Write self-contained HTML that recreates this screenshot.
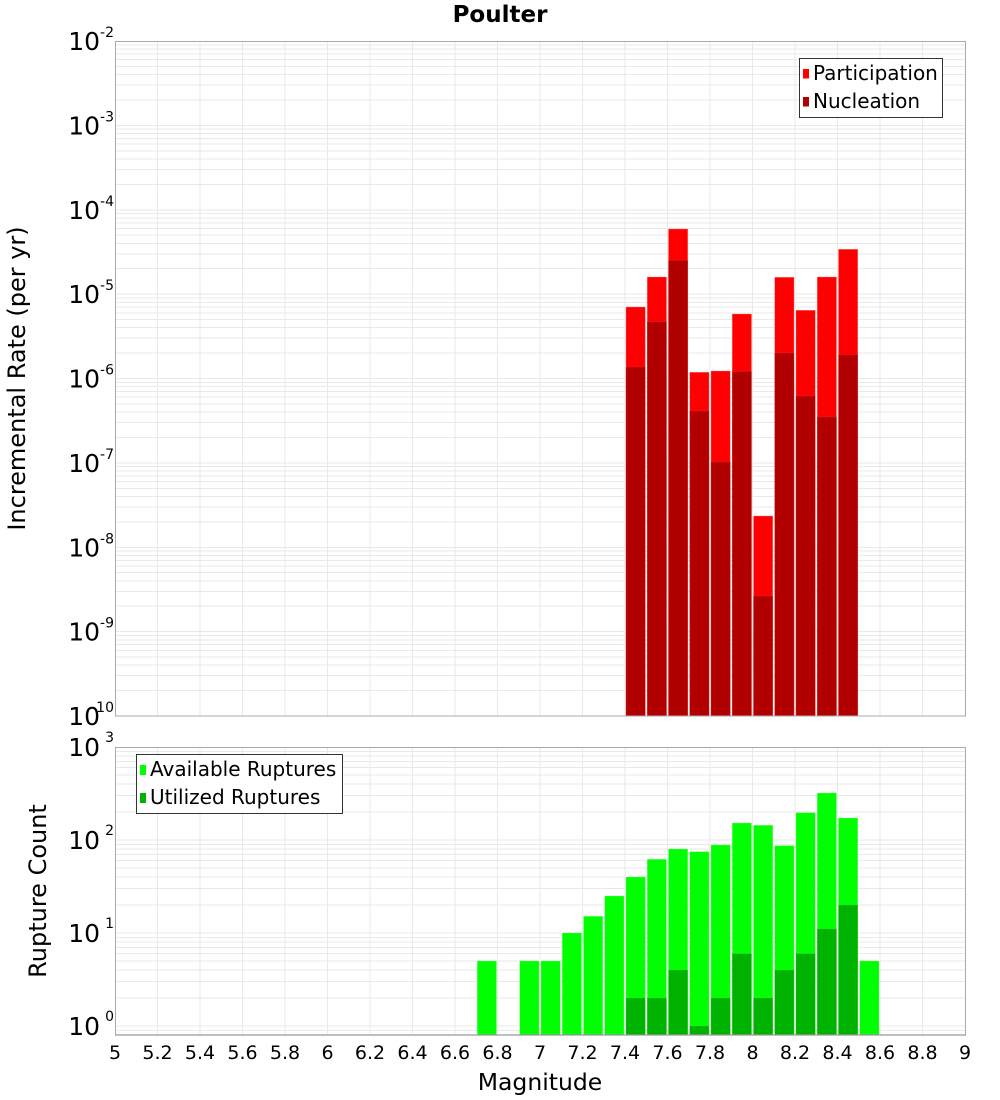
<!DOCTYPE html>
<html><head><meta charset="utf-8"><style>
html,body{margin:0;padding:0;background:#fff;}
svg{display:block;}
text{font-family:"DejaVu Sans","Liberation Sans",sans-serif;fill:#000;}
</style></head><body>
<svg width="1000" height="1100" viewBox="0 0 1000 1100" xmlns="http://www.w3.org/2000/svg">
<rect x="0" y="0" width="1000" height="1100" fill="#fff"/>
<text x="500" y="22" font-size="23" font-weight="bold" text-anchor="middle">Poulter</text>

<!-- TOP PLOT -->
<rect x="115" y="41" width="850" height="675" fill="#fff"/>
<g stroke="#e9e9e9" stroke-width="1" fill="none" shape-rendering="crispEdges">
<path d="M115 690.6H965M115 675.7H965M115 665.2H965M115 657H965M115 650.3H965M115 644.7H965M115 639.8H965M115 635.5H965M115 631.6H965M115 606.2H965M115 591.4H965M115 580.8H965M115 572.6H965M115 566H965M115 560.3H965M115 555.4H965M115 551.1H965M115 547.25H965M115 521.9H965M115 507H965M115 496.5H965M115 488.3H965M115 481.6H965M115 475.9H965M115 471.1H965M115 466.7H965M115 462.9H965M115 437.5H965M115 422.6H965M115 412.1H965M115 403.9H965M115 397.2H965M115 391.6H965M115 386.7H965M115 382.4H965M115 378.5H965M115 353.1H965M115 338.2H965M115 327.7H965M115 319.5H965M115 312.8H965M115 307.2H965M115 302.3H965M115 298H965M115 294.1H965M115 268.7H965M115 253.9H965M115 243.3H965M115 235.1H965M115 228.5H965M115 222.8H965M115 217.9H965M115 213.6H965M115 209.75H965M115 184.4H965M115 169.5H965M115 159H965M115 150.8H965M115 144.1H965M115 138.4H965M115 133.6H965M115 129.2H965M115 125.4H965M115 100H965M115 85.1H965M115 74.6H965M115 66.4H965M115 59.7H965M115 54.1H965M115 49.2H965M115 44.9H965"/>
<path d="M157.5 41V716M200 41V716M242.5 41V716M285 41V716M327.5 41V716M370 41V716M412.5 41V716M455 41V716M497.5 41V716M540 41V716M582.5 41V716M625 41V716M667.5 41V716M710 41V716M752.5 41V716M795 41V716M837.5 41V716M880 41V716M922.5 41V716"/>
</g>
<g stroke="#ff7a7a" stroke-width="0.6" stroke-opacity="0.6">
<rect x="626" y="307" width="19.25" height="409" fill="#ff0000"/>
<rect x="647.25" y="277" width="19.25" height="439" fill="#ff0000"/>
<rect x="668.5" y="229" width="19.25" height="487" fill="#ff0000"/>
<rect x="689.75" y="372.3" width="19.25" height="343.7" fill="#ff0000"/>
<rect x="711" y="371" width="19.25" height="345" fill="#ff0000"/>
<rect x="732.25" y="314" width="19.25" height="402" fill="#ff0000"/>
<rect x="753.5" y="516" width="19.25" height="200" fill="#ff0000"/>
<rect x="774.75" y="277.3" width="19.25" height="438.7" fill="#ff0000"/>
<rect x="796" y="310.3" width="19.25" height="405.7" fill="#ff0000"/>
<rect x="817.25" y="277" width="19.25" height="439" fill="#ff0000"/>
<rect x="838.5" y="249.3" width="19.25" height="466.7" fill="#ff0000"/>
</g>
<g stroke="#d04040" stroke-width="0.6" stroke-opacity="0.5">
<rect x="626" y="367" width="19.25" height="349" fill="#b20000"/>
<rect x="647.25" y="321.7" width="19.25" height="394.3" fill="#b20000"/>
<rect x="668.5" y="260.3" width="19.25" height="455.7" fill="#b20000"/>
<rect x="689.75" y="411" width="19.25" height="305" fill="#b20000"/>
<rect x="711" y="462" width="19.25" height="254" fill="#b20000"/>
<rect x="732.25" y="371.3" width="19.25" height="344.7" fill="#b20000"/>
<rect x="753.5" y="596" width="19.25" height="120" fill="#b20000"/>
<rect x="774.75" y="353" width="19.25" height="363" fill="#b20000"/>
<rect x="796" y="396" width="19.25" height="320" fill="#b20000"/>
<rect x="817.25" y="417" width="19.25" height="299" fill="#b20000"/>
<rect x="838.5" y="354.7" width="19.25" height="361.3" fill="#b20000"/>
</g>
<rect x="115.5" y="41.5" width="850" height="674.5" fill="none" stroke="#aaaaaa" stroke-width="1"/>

<!-- top legend -->
<rect x="799.5" y="58.5" width="143" height="59" fill="#fff" stroke="#333" stroke-width="1"/>
<rect x="803" y="69" width="6" height="9.5" fill="#ff0000"/>
<rect x="803" y="97" width="6" height="9.5" fill="#b20000"/>
<text x="813" y="80" font-size="20">Participation</text>
<text x="813" y="108" font-size="20">Nucleation</text>

<!-- top y tick labels -->
<g font-size="25" text-anchor="end">
<text x="100" y="50">10</text>
<text x="100" y="134.4">10</text>
<text x="100" y="218.75">10</text>
<text x="100" y="303.1">10</text>
<text x="100" y="387.5">10</text>
<text x="100" y="471.9">10</text>
<text x="100" y="556.25">10</text>
<text x="100" y="640.6">10</text>
<text x="100" y="725">10</text>
</g>
<g font-size="14" text-anchor="end">
<text x="114" y="37">-2</text>
<text x="114" y="121.4">-3</text>
<text x="114" y="205.75">-4</text>
<text x="114" y="290.1">-5</text>
<text x="114" y="374.5">-6</text>
<text x="114" y="458.9">-7</text>
<text x="114" y="543.25">-8</text>
<text x="114" y="627.6">-9</text>
<text x="114" y="712">-10</text>
</g>
<text transform="translate(25,378.5) rotate(-90)" font-size="24" text-anchor="middle">Incremental Rate (per yr)</text>

<!-- BOTTOM PLOT -->
<rect x="115" y="747" width="850" height="288" fill="#fff"/>
<g stroke="#e9e9e9" stroke-width="1" fill="none" shape-rendering="crispEdges">
<path d="M115 1030.3H965M115 1026H965M115 998H965M115 981.6H965M115 970H965M115 961H965M115 953.6H965M115 947.4H965M115 942H965M115 937.3H965M115 933H965M115 905H965M115 888.6H965M115 877H965M115 868H965M115 860.6H965M115 854.4H965M115 849H965M115 844.3H965M115 840H965M115 812H965M115 795.6H965M115 784H965M115 775H965M115 767.6H965M115 761.4H965M115 756H965M115 751.3H965"/>
<path d="M157.5 747V1035M200 747V1035M242.5 747V1035M285 747V1035M327.5 747V1035M370 747V1035M412.5 747V1035M455 747V1035M497.5 747V1035M540 747V1035M582.5 747V1035M625 747V1035M667.5 747V1035M710 747V1035M752.5 747V1035M795 747V1035M837.5 747V1035M880 747V1035M922.5 747V1035"/>
</g>
<g stroke="#80ff80" stroke-width="0.6" stroke-opacity="0.6">
<rect x="477.25" y="961" width="19.25" height="74" fill="#00ff00"/>
<rect x="519.75" y="961" width="19.25" height="74" fill="#00ff00"/>
<rect x="541" y="961" width="19.25" height="74" fill="#00ff00"/>
<rect x="562.25" y="933" width="19.25" height="102" fill="#00ff00"/>
<rect x="583.5" y="916.3" width="19.25" height="118.7" fill="#00ff00"/>
<rect x="604.75" y="896" width="19.25" height="139" fill="#00ff00"/>
<rect x="626" y="877" width="19.25" height="158" fill="#00ff00"/>
<rect x="647.25" y="859.3" width="19.25" height="175.7" fill="#00ff00"/>
<rect x="668.5" y="849" width="19.25" height="186" fill="#00ff00"/>
<rect x="689.75" y="851.7" width="19.25" height="183.3" fill="#00ff00"/>
<rect x="711" y="845" width="19.25" height="190" fill="#00ff00"/>
<rect x="732.25" y="823" width="19.25" height="212" fill="#00ff00"/>
<rect x="753.5" y="825.3" width="19.25" height="209.7" fill="#00ff00"/>
<rect x="774.75" y="845.7" width="19.25" height="189.3" fill="#00ff00"/>
<rect x="796" y="812.7" width="19.25" height="222.3" fill="#00ff00"/>
<rect x="817.25" y="793" width="19.25" height="242" fill="#00ff00"/>
<rect x="838.5" y="818" width="19.25" height="217" fill="#00ff00"/>
<rect x="859.75" y="961" width="19.25" height="74" fill="#00ff00"/>
</g>
<g stroke="#40d040" stroke-width="0.6" stroke-opacity="0.5">
<rect x="626" y="998" width="19.25" height="37" fill="#00b200"/>
<rect x="647.25" y="998" width="19.25" height="37" fill="#00b200"/>
<rect x="668.5" y="970" width="19.25" height="65" fill="#00b200"/>
<rect x="689.75" y="1026" width="19.25" height="9" fill="#00b200"/>
<rect x="711" y="998" width="19.25" height="37" fill="#00b200"/>
<rect x="732.25" y="953.7" width="19.25" height="81.3" fill="#00b200"/>
<rect x="753.5" y="998" width="19.25" height="37" fill="#00b200"/>
<rect x="774.75" y="970" width="19.25" height="65" fill="#00b200"/>
<rect x="796" y="953.7" width="19.25" height="81.3" fill="#00b200"/>
<rect x="817.25" y="929" width="19.25" height="106" fill="#00b200"/>
<rect x="838.5" y="905" width="19.25" height="130" fill="#00b200"/>
</g>
<rect x="115.5" y="747.5" width="850" height="287.5" fill="none" stroke="#aaaaaa" stroke-width="1"/>
<line x1="115" y1="1035" x2="966" y2="1035" stroke="#999" stroke-width="1.2"/>

<!-- bottom legend -->
<rect x="136.5" y="754.5" width="206" height="59" fill="#fff" stroke="#333" stroke-width="1"/>
<rect x="140" y="765" width="6" height="10" fill="#00ff00"/>
<rect x="140" y="793" width="6" height="10" fill="#00b200"/>
<text x="150" y="776" font-size="20">Available Ruptures</text>
<text x="150" y="804" font-size="20">Utilized Ruptures</text>

<!-- bottom y tick labels -->
<g font-size="25" text-anchor="end">
<text x="100" y="756">10</text>
<text x="100" y="849">10</text>
<text x="100" y="942">10</text>
<text x="100" y="1035">10</text>
</g>
<g font-size="14" text-anchor="end">
<text x="114" y="742">3</text>
<text x="114" y="835">2</text>
<text x="114" y="928">1</text>
<text x="114" y="1021">0</text>
</g>
<text transform="translate(46,891) rotate(-90)" font-size="24" text-anchor="middle">Rupture Count</text>

<!-- x tick labels -->
<g font-size="19" text-anchor="middle">
<text x="115" y="1059">5</text>
<text x="157.5" y="1059">5.2</text>
<text x="200" y="1059">5.4</text>
<text x="242.5" y="1059">5.6</text>
<text x="285" y="1059">5.8</text>
<text x="327.5" y="1059">6</text>
<text x="370" y="1059">6.2</text>
<text x="412.5" y="1059">6.4</text>
<text x="455" y="1059">6.6</text>
<text x="497.5" y="1059">6.8</text>
<text x="540" y="1059">7</text>
<text x="582.5" y="1059">7.2</text>
<text x="625" y="1059">7.4</text>
<text x="667.5" y="1059">7.6</text>
<text x="710" y="1059">7.8</text>
<text x="752.5" y="1059">8</text>
<text x="795" y="1059">8.2</text>
<text x="837.5" y="1059">8.4</text>
<text x="880" y="1059">8.6</text>
<text x="922.5" y="1059">8.8</text>
<text x="965" y="1059">9</text>
</g>
<text x="540" y="1090" font-size="23.5" text-anchor="middle">Magnitude</text>
</svg>
</body></html>
